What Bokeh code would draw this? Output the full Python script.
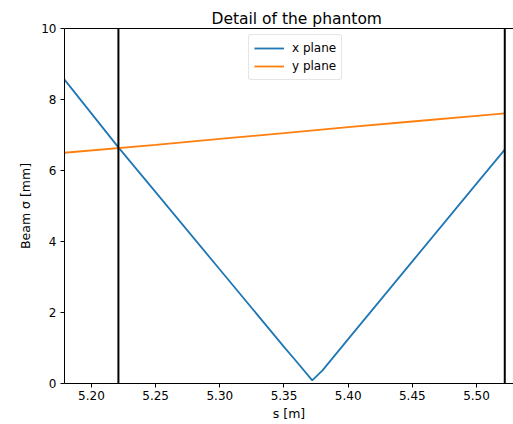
from bokeh.plotting import figure
from bokeh.models import Span, Legend, LegendItem, LinearAxis, FixedTicker, Range1d, NumeralTickFormatter
from bokeh.embed import file_html
from bokeh.resources import INLINE

# data
s_x = [5.179, 5.221, 5.25, 5.30, 5.35, 5.362, 5.372, 5.380, 5.40, 5.45, 5.50, 5.522]
sigma_x = [8.56, 6.65, 5.39, 3.21, 1.03, 0.52, 0.09, 0.37, 1.25, 3.44, 5.63, 6.59]
s_y = [5.179, 5.25, 5.30, 5.35, 5.40, 5.45, 5.50, 5.522]
sigma_y = [6.50, 6.72, 6.89, 7.05, 7.22, 7.38, 7.54, 7.61]
phantom_edges = [5.221, 5.522]
x_ticks = [5.20, 5.25, 5.30, 5.35, 5.40, 5.45, 5.50]
y_ticks = [0, 2, 4, 6, 8, 10]

FONT = "DejaVu Sans"

p = figure(width=513, height=424, output_backend="svg", toolbar_location=None,
           x_range=Range1d(5.179, 5.5288), y_range=Range1d(0, 10),
           min_border_left=64, min_border_right=0, min_border_top=28, min_border_bottom=41)
p.outline_line_color = None
p.grid.visible = False
p.background_fill_color = "white"

p.title.text = "Detail of the phantom"
p.title.text_font = FONT
p.title.text_font_size = "15.5px"
p.title.text_font_style = "normal"
p.title.text_color = "black"
p.title.align = "left"
p.title.offset = 147
p.title.standoff = 2

for ax in (p.xaxis[0], p.yaxis[0]):
    ax.major_label_text_font = FONT
    ax.major_label_text_font_size = "12px"
    ax.axis_label_text_font = FONT
    ax.axis_label_text_font_size = "12.5px"
    ax.axis_label_text_font_style = "normal"
    ax.axis_label_text_color = "black"
    ax.major_tick_in = 0
    ax.major_tick_out = 4
    ax.minor_tick_line_color = None
    ax.axis_line_color = "black"
    ax.major_tick_line_color = "black"
    ax.major_label_text_color = "black"

p.xaxis[0].ticker = FixedTicker(ticks=x_ticks)
p.xaxis[0].formatter = NumeralTickFormatter(format="0.00")
p.xaxis[0].axis_label = "s [m]"
p.xaxis[0].major_label_standoff = 3
p.xaxis[0].axis_label_standoff = 3
p.yaxis[0].ticker = FixedTicker(ticks=y_ticks)
p.yaxis[0].axis_label = "Beam σ [mm]"
p.yaxis[0].major_label_standoff = 4
p.yaxis[0].axis_label_standoff = 5

top = LinearAxis(ticker=FixedTicker(ticks=[]), major_label_text_font_size="0px",
                 major_tick_line_color=None, minor_tick_line_color=None, axis_line_color="black")
p.add_layout(top, "above")

rx = p.line(s_x, sigma_x, line_color="#1f77b4", line_width=1.8)
ry = p.line(s_y, sigma_y, line_color="#ff7f0e", line_width=1.8)

for e in phantom_edges:
    p.add_layout(Span(location=e, dimension="height", line_color="black", line_width=2))

legend = Legend(items=[LegendItem(label="x plane", renderers=[rx]),
                       LegendItem(label="y plane", renderers=[ry])],
                location=(184, 303))
legend.label_text_font = FONT
legend.label_text_font_size = "12px"
legend.label_text_color = "black"
legend.border_line_color = "#cccccc"
legend.border_line_width = 1
legend.border_radius = 3
legend.padding = 5
legend.spacing = 2
legend.glyph_width = 30
legend.glyph_height = 16
legend.label_height = 16
legend.label_standoff = 8
legend.margin = 0
p.add_layout(legend, "center")

open("out.html", "w").write(file_html(p, INLINE))
